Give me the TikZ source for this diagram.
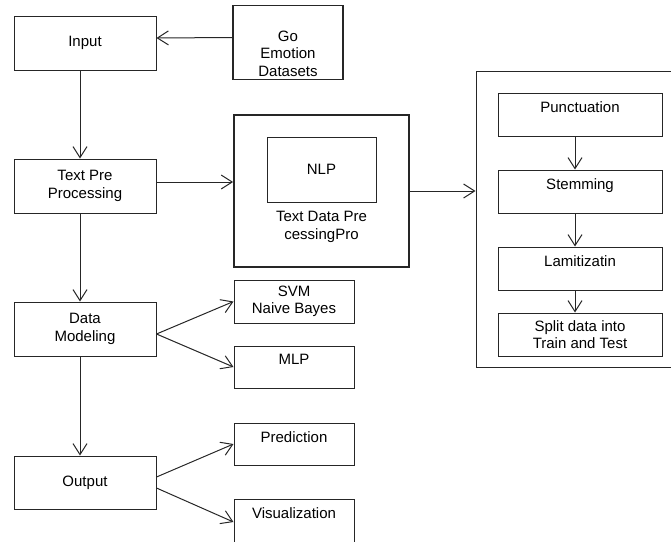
\documentclass[tikz,border=0pt]{standalone}
\usepackage{fontspec}
\setmainfont{Liberation Sans}
\usetikzlibrary{arrows.meta}

\begin{document}
\begin{tikzpicture}[x=1pt, y=-1pt, font=\fontsize{15}{17.5}\selectfont,
  box/.style={draw=black!85, line width=1pt, align=center, inner sep=0pt},
  thickbox/.style={box, line width=1.8pt},
  topbox/.style={box, label={[anchor=north, inner sep=0pt, yshift=-8.5pt]north:#1}},
  flow/.style={draw=black!85, line width=1pt, -{Straight Barb[length=11pt, width=14pt]}}]
  \useasboundingbox (0, 0) rectangle (671, 541);

  \node[box, minimum width=142, minimum height=54] (input) at (85, 43) {Input};
  \node[thickbox, minimum width=110, minimum height=74,
        label={[align=center, anchor=north, inner sep=0pt, yshift=-26pt]north:Go\\Emotion\\Datasets}] (go) at (288, 42.5) {};
  \node[box, minimum width=142, minimum height=54] (textpre) at (85, 186) {Text Pre\\Processing};
  \node[box, minimum width=142, minimum height=54] (model) at (85, 329) {Data\\Modeling};
  \node[box, minimum width=142, minimum height=53] (output) at (85, 482.5) {Output};

  \node[thickbox, minimum width=175, minimum height=152] (tdp) at (321.5, 191) {};
  \node[box, minimum width=109, minimum height=65] (nlp) at (321.5, 169.5) {NLP};
  \node[align=center, inner sep=0pt] (tdptext) at (321.5, 227) {Text Data Pre\\cessingPro};

  \node[box, minimum width=197, minimum height=296] (steps) at (574.5, 219) {};
  \node[topbox=Punctuation, minimum width=164, minimum height=43] (punct) at (580, 114.5) {};
  \node[topbox=Stemming, minimum width=164, minimum height=43] (stem) at (580, 191.5) {};
  \node[topbox=Lamitizatin, minimum width=164, minimum height=43] (lemma) at (580, 268.5) {};
  \node[box, minimum width=164, minimum height=43] (split) at (580, 334.5) {Split data into\\Train and Test};

  \node[box, minimum width=120, minimum height=43] (svm) at (294, 301.5) {SVM\\Naive Bayes};
  \node[topbox=MLP, minimum width=120, minimum height=42] (mlp) at (294, 367) {};
  \node[topbox=Prediction, minimum width=120, minimum height=42] (pred) at (294, 444) {};
  \node[topbox=Visualization, minimum width=120, minimum height=46] (vis) at (294, 522) {};

  \draw[flow] ([yshift=5pt]go.west) -- ([yshift=5pt]input.east);
  \draw[flow] ([xshift=-5pt]input.south) -- ([xshift=-5pt]textpre.north);
  \draw[flow] ([xshift=-5pt]textpre.south) -- ([xshift=-5pt]model.north);
  \draw[flow] ([xshift=-5pt]model.south) -- ([xshift=-5pt]output.north);
  \draw[flow] ([yshift=4pt]textpre.east) -- ([yshift=4pt]textpre.east -| tdp.west);
  \draw[flow] (tdp.east) -- (tdp.east -| steps.west);
  \draw[flow] ([xshift=-5pt]punct.south) -- ([xshift=-5pt]stem.north);
  \draw[flow] ([xshift=-5pt]stem.south) -- ([xshift=-5pt]lemma.north);
  \draw[flow] ([xshift=-5pt]lemma.south) -- ([xshift=-5pt]split.north);
  \draw[flow] ([yshift=-5pt]model.east) -- (svm.west);
  \draw[flow] ([yshift=-5pt]model.east) -- (mlp.west);
  \draw[flow] ([yshift=5.5pt]output.east) -- (pred.west);
  \draw[flow] ([yshift=-5.5pt]output.east) -- (vis.west);
\end{tikzpicture}
\end{document}
